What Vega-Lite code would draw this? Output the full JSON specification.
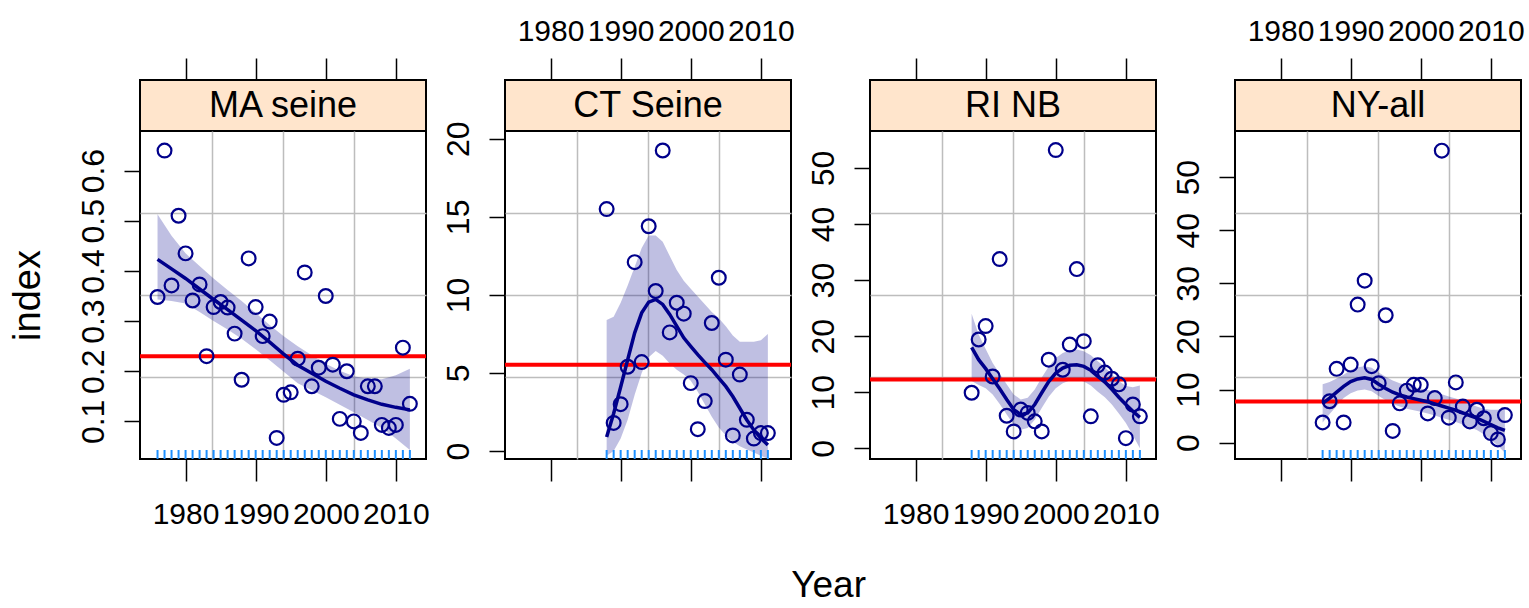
{
"$schema": "https://vega.github.io/schema/vega-lite/v6.json",
"padding": {"left": 7, "top": 15, "right": 2, "bottom": 2},
"datasets": {
"pts": [
{"panel":"MA seine","Year":1976,"index":0.348},{"panel":"MA seine","Year":1977,"index":0.64},{"panel":"MA seine","Year":1978,"index":0.371},{"panel":"MA seine","Year":1979,"index":0.51},{"panel":"MA seine","Year":1980,"index":0.435},{"panel":"MA seine","Year":1981,"index":0.341},{"panel":"MA seine","Year":1982,"index":0.373},{"panel":"MA seine","Year":1983,"index":0.23},{"panel":"MA seine","Year":1984,"index":0.328},{"panel":"MA seine","Year":1985,"index":0.338},{"panel":"MA seine","Year":1986,"index":0.327},{"panel":"MA seine","Year":1987,"index":0.275},{"panel":"MA seine","Year":1988,"index":0.183},{"panel":"MA seine","Year":1989,"index":0.425},{"panel":"MA seine","Year":1990,"index":0.328},{"panel":"MA seine","Year":1991,"index":0.27},{"panel":"MA seine","Year":1992,"index":0.299},{"panel":"MA seine","Year":1993,"index":0.067},{"panel":"MA seine","Year":1994,"index":0.153},{"panel":"MA seine","Year":1995,"index":0.158},{"panel":"MA seine","Year":1996,"index":0.225},{"panel":"MA seine","Year":1997,"index":0.397},{"panel":"MA seine","Year":1998,"index":0.17},{"panel":"MA seine","Year":1999,"index":0.207},{"panel":"MA seine","Year":2000,"index":0.35},{"panel":"MA seine","Year":2001,"index":0.213},{"panel":"MA seine","Year":2002,"index":0.105},{"panel":"MA seine","Year":2003,"index":0.2},{"panel":"MA seine","Year":2004,"index":0.1},{"panel":"MA seine","Year":2005,"index":0.077},{"panel":"MA seine","Year":2006,"index":0.17},{"panel":"MA seine","Year":2007,"index":0.17},{"panel":"MA seine","Year":2008,"index":0.093},{"panel":"MA seine","Year":2009,"index":0.087},{"panel":"MA seine","Year":2010,"index":0.093},{"panel":"MA seine","Year":2011,"index":0.247},{"panel":"MA seine","Year":2012,"index":0.135},
{"panel":"CT Seine","Year":1988,"index":15.5},{"panel":"CT Seine","Year":1989,"index":1.8},{"panel":"CT Seine","Year":1990,"index":3.0},{"panel":"CT Seine","Year":1991,"index":5.4},{"panel":"CT Seine","Year":1992,"index":12.1},{"panel":"CT Seine","Year":1993,"index":5.7},{"panel":"CT Seine","Year":1994,"index":14.4},{"panel":"CT Seine","Year":1995,"index":10.25},{"panel":"CT Seine","Year":1996,"index":19.25},{"panel":"CT Seine","Year":1997,"index":7.6},{"panel":"CT Seine","Year":1998,"index":9.5},{"panel":"CT Seine","Year":1999,"index":8.8},{"panel":"CT Seine","Year":2000,"index":4.35},{"panel":"CT Seine","Year":2001,"index":1.4},{"panel":"CT Seine","Year":2002,"index":3.2},{"panel":"CT Seine","Year":2003,"index":8.2},{"panel":"CT Seine","Year":2004,"index":11.1},{"panel":"CT Seine","Year":2005,"index":5.85},{"panel":"CT Seine","Year":2006,"index":1.0},{"panel":"CT Seine","Year":2007,"index":4.9},{"panel":"CT Seine","Year":2008,"index":2.0},{"panel":"CT Seine","Year":2009,"index":0.8},{"panel":"CT Seine","Year":2010,"index":1.15},{"panel":"CT Seine","Year":2011,"index":1.15},
{"panel":"RI NB","Year":1988,"index":9.9},{"panel":"RI NB","Year":1989,"index":19.4},{"panel":"RI NB","Year":1990,"index":21.8},{"panel":"RI NB","Year":1991,"index":12.8},{"panel":"RI NB","Year":1992,"index":33.75},{"panel":"RI NB","Year":1993,"index":5.8},{"panel":"RI NB","Year":1994,"index":3.0},{"panel":"RI NB","Year":1995,"index":6.9},{"panel":"RI NB","Year":1996,"index":6.3},{"panel":"RI NB","Year":1997,"index":4.8},{"panel":"RI NB","Year":1998,"index":3.0},{"panel":"RI NB","Year":1999,"index":15.8},{"panel":"RI NB","Year":2000,"index":53.2},{"panel":"RI NB","Year":2001,"index":14.0},{"panel":"RI NB","Year":2002,"index":18.5},{"panel":"RI NB","Year":2003,"index":31.96},{"panel":"RI NB","Year":2004,"index":19.1},{"panel":"RI NB","Year":2005,"index":5.7},{"panel":"RI NB","Year":2006,"index":14.8},{"panel":"RI NB","Year":2007,"index":13.5},{"panel":"RI NB","Year":2008,"index":12.4},{"panel":"RI NB","Year":2009,"index":11.4},{"panel":"RI NB","Year":2010,"index":1.8},{"panel":"RI NB","Year":2011,"index":7.8},{"panel":"RI NB","Year":2012,"index":5.7},
{"panel":"NY-all","Year":1986,"index":3.8},{"panel":"NY-all","Year":1987,"index":7.8},{"panel":"NY-all","Year":1988,"index":13.9},{"panel":"NY-all","Year":1989,"index":3.8},{"panel":"NY-all","Year":1990,"index":14.7},{"panel":"NY-all","Year":1991,"index":26.0},{"panel":"NY-all","Year":1992,"index":30.5},{"panel":"NY-all","Year":1993,"index":14.4},{"panel":"NY-all","Year":1994,"index":11.2},{"panel":"NY-all","Year":1995,"index":24.0},{"panel":"NY-all","Year":1996,"index":2.2},{"panel":"NY-all","Year":1997,"index":7.4},{"panel":"NY-all","Year":1998,"index":9.8},{"panel":"NY-all","Year":1999,"index":10.9},{"panel":"NY-all","Year":2000,"index":10.9},{"panel":"NY-all","Year":2001,"index":5.5},{"panel":"NY-all","Year":2002,"index":8.4},{"panel":"NY-all","Year":2003,"index":55.0},{"panel":"NY-all","Year":2004,"index":4.7},{"panel":"NY-all","Year":2005,"index":11.35},{"panel":"NY-all","Year":2006,"index":6.8},{"panel":"NY-all","Year":2007,"index":4.0},{"panel":"NY-all","Year":2008,"index":6.2},{"panel":"NY-all","Year":2009,"index":4.6},{"panel":"NY-all","Year":2010,"index":1.8},{"panel":"NY-all","Year":2011,"index":0.6},{"panel":"NY-all","Year":2012,"index":5.2}
],
"fit": [
{"panel":"MA seine","Year":1976,"fit":0.423,"lo":0.343,"hi":0.513},{"panel":"MA seine","Year":1978,"fit":0.404,"lo":0.340,"hi":0.470},{"panel":"MA seine","Year":1980,"fit":0.385,"lo":0.335,"hi":0.435},{"panel":"MA seine","Year":1982,"fit":0.364,"lo":0.318,"hi":0.410},{"panel":"MA seine","Year":1984,"fit":0.343,"lo":0.300,"hi":0.385},{"panel":"MA seine","Year":1986,"fit":0.323,"lo":0.283,"hi":0.362},{"panel":"MA seine","Year":1988,"fit":0.302,"lo":0.265,"hi":0.340},{"panel":"MA seine","Year":1990,"fit":0.281,"lo":0.244,"hi":0.316},{"panel":"MA seine","Year":1992,"fit":0.258,"lo":0.222,"hi":0.292},{"panel":"MA seine","Year":1994,"fit":0.234,"lo":0.199,"hi":0.270},{"panel":"MA seine","Year":1996,"fit":0.212,"lo":0.176,"hi":0.250},{"panel":"MA seine","Year":1998,"fit":0.196,"lo":0.162,"hi":0.232},{"panel":"MA seine","Year":2000,"fit":0.180,"lo":0.148,"hi":0.215},{"panel":"MA seine","Year":2002,"fit":0.166,"lo":0.133,"hi":0.201},{"panel":"MA seine","Year":2004,"fit":0.153,"lo":0.118,"hi":0.190},{"panel":"MA seine","Year":2006,"fit":0.143,"lo":0.103,"hi":0.185},{"panel":"MA seine","Year":2008,"fit":0.134,"lo":0.087,"hi":0.184},{"panel":"MA seine","Year":2010,"fit":0.128,"lo":0.066,"hi":0.192},{"panel":"MA seine","Year":2012,"fit":0.123,"lo":0.043,"hi":0.205},
{"panel":"CT Seine","Year":1988,"fit":0.9,"lo":-0.3,"hi":8.4},{"panel":"CT Seine","Year":1989,"fit":2.4,"lo":0.0,"hi":8.6},{"panel":"CT Seine","Year":1990,"fit":4.1,"lo":0.8,"hi":9.5},{"panel":"CT Seine","Year":1991,"fit":5.85,"lo":2.0,"hi":10.6},{"panel":"CT Seine","Year":1992,"fit":7.57,"lo":3.6,"hi":11.8},{"panel":"CT Seine","Year":1993,"fit":8.85,"lo":5.0,"hi":13.0},{"panel":"CT Seine","Year":1994,"fit":9.54,"lo":6.0,"hi":13.8},{"panel":"CT Seine","Year":1995,"fit":9.71,"lo":6.4,"hi":13.8},{"panel":"CT Seine","Year":1996,"fit":9.39,"lo":6.1,"hi":13.4},{"panel":"CT Seine","Year":1997,"fit":8.75,"lo":5.6,"hi":12.5},{"panel":"CT Seine","Year":1998,"fit":8.0,"lo":5.2,"hi":11.6},{"panel":"CT Seine","Year":1999,"fit":7.25,"lo":4.9,"hi":10.9},{"panel":"CT Seine","Year":2000,"fit":6.71,"lo":4.5,"hi":10.4},{"panel":"CT Seine","Year":2001,"fit":6.17,"lo":3.8,"hi":9.9},{"panel":"CT Seine","Year":2002,"fit":5.68,"lo":3.0,"hi":9.4},{"panel":"CT Seine","Year":2003,"fit":5.21,"lo":2.2,"hi":8.9},{"panel":"CT Seine","Year":2004,"fit":4.67,"lo":1.5,"hi":8.5},{"panel":"CT Seine","Year":2005,"fit":4.14,"lo":1.0,"hi":8.0},{"panel":"CT Seine","Year":2006,"fit":3.49,"lo":0.6,"hi":7.4},{"panel":"CT Seine","Year":2007,"fit":2.74,"lo":0.3,"hi":7.0},{"panel":"CT Seine","Year":2008,"fit":1.99,"lo":0.1,"hi":7.0},{"panel":"CT Seine","Year":2009,"fit":1.35,"lo":-0.1,"hi":7.0},{"panel":"CT Seine","Year":2010,"fit":0.81,"lo":-0.3,"hi":7.1},{"panel":"CT Seine","Year":2011,"fit":0.39,"lo":-0.5,"hi":7.5},
{"panel":"RI NB","Year":1988,"fit":18.0,"lo":12.0,"hi":24.0},{"panel":"RI NB","Year":1989,"fit":15.8,"lo":11.3,"hi":20.3},{"panel":"RI NB","Year":1990,"fit":14.2,"lo":10.7,"hi":17.7},{"panel":"RI NB","Year":1991,"fit":12.4,"lo":9.6,"hi":15.2},{"panel":"RI NB","Year":1992,"fit":10.6,"lo":7.9,"hi":13.3},{"panel":"RI NB","Year":1993,"fit":8.7,"lo":6.0,"hi":11.4},{"panel":"RI NB","Year":1994,"fit":6.9,"lo":4.2,"hi":9.6},{"panel":"RI NB","Year":1995,"fit":6.0,"lo":3.3,"hi":8.7},{"panel":"RI NB","Year":1996,"fit":6.3,"lo":3.6,"hi":9.0},{"panel":"RI NB","Year":1997,"fit":7.8,"lo":5.1,"hi":10.5},{"panel":"RI NB","Year":1998,"fit":9.9,"lo":7.2,"hi":12.6},{"panel":"RI NB","Year":1999,"fit":11.9,"lo":9.2,"hi":14.6},{"panel":"RI NB","Year":2000,"fit":13.4,"lo":10.7,"hi":16.1},{"panel":"RI NB","Year":2001,"fit":14.3,"lo":11.6,"hi":17.0},{"panel":"RI NB","Year":2002,"fit":14.8,"lo":12.1,"hi":17.5},{"panel":"RI NB","Year":2003,"fit":14.9,"lo":12.2,"hi":17.6},{"panel":"RI NB","Year":2004,"fit":14.6,"lo":11.9,"hi":17.3},{"panel":"RI NB","Year":2005,"fit":13.9,"lo":11.2,"hi":16.6},{"panel":"RI NB","Year":2006,"fit":12.8,"lo":10.1,"hi":15.5},{"panel":"RI NB","Year":2007,"fit":11.8,"lo":9.1,"hi":14.5},{"panel":"RI NB","Year":2008,"fit":10.5,"lo":7.8,"hi":13.2},{"panel":"RI NB","Year":2009,"fit":9.1,"lo":6.2,"hi":12.0},{"panel":"RI NB","Year":2010,"fit":7.8,"lo":4.5,"hi":11.1},{"panel":"RI NB","Year":2011,"fit":6.6,"lo":2.3,"hi":10.9},{"panel":"RI NB","Year":2012,"fit":5.5,"lo":0.0,"hi":11.2},
{"panel":"NY-all","Year":1986,"fit":7.4,"lo":3.8,"hi":11.0},{"panel":"NY-all","Year":1987,"fit":8.4,"lo":5.4,"hi":11.4},{"panel":"NY-all","Year":1988,"fit":9.5,"lo":6.9,"hi":12.1},{"panel":"NY-all","Year":1989,"fit":10.6,"lo":8.4,"hi":12.8},{"panel":"NY-all","Year":1990,"fit":11.5,"lo":9.3,"hi":13.7},{"panel":"NY-all","Year":1991,"fit":12.0,"lo":9.8,"hi":14.2},{"panel":"NY-all","Year":1992,"fit":12.2,"lo":10.0,"hi":14.4},{"panel":"NY-all","Year":1993,"fit":11.9,"lo":9.7,"hi":14.1},{"panel":"NY-all","Year":1994,"fit":11.0,"lo":8.8,"hi":13.2},{"panel":"NY-all","Year":1995,"fit":10.2,"lo":8.0,"hi":12.4},{"panel":"NY-all","Year":1996,"fit":9.5,"lo":7.3,"hi":11.7},{"panel":"NY-all","Year":1997,"fit":9.0,"lo":6.8,"hi":11.2},{"panel":"NY-all","Year":1998,"fit":8.6,"lo":6.4,"hi":10.8},{"panel":"NY-all","Year":1999,"fit":8.3,"lo":6.1,"hi":10.5},{"panel":"NY-all","Year":2000,"fit":8.0,"lo":5.8,"hi":10.2},{"panel":"NY-all","Year":2001,"fit":7.7,"lo":5.5,"hi":9.9},{"panel":"NY-all","Year":2002,"fit":7.3,"lo":5.1,"hi":9.5},{"panel":"NY-all","Year":2003,"fit":6.9,"lo":4.7,"hi":9.1},{"panel":"NY-all","Year":2004,"fit":6.5,"lo":4.3,"hi":8.7},{"panel":"NY-all","Year":2005,"fit":6.1,"lo":3.9,"hi":8.3},{"panel":"NY-all","Year":2006,"fit":5.6,"lo":3.4,"hi":7.8},{"panel":"NY-all","Year":2007,"fit":5.1,"lo":2.9,"hi":7.3},{"panel":"NY-all","Year":2008,"fit":4.6,"lo":2.4,"hi":6.8},{"panel":"NY-all","Year":2009,"fit":4.0,"lo":1.6,"hi":6.4},{"panel":"NY-all","Year":2010,"fit":3.4,"lo":0.6,"hi":6.2},{"panel":"NY-all","Year":2011,"fit":2.8,"lo":-0.6,"hi":6.2},{"panel":"NY-all","Year":2012,"fit":2.3,"lo":-1.9,"hi":6.5}
],
"ref": [
{"panel":"MA seine","index":0.23},{"panel":"CT Seine","index":5.53},{"panel":"RI NB","index":12.25},{"panel":"NY-all","index":7.76}
]
},
"title": {"text": "Year", "orient": "bottom", "anchor": "middle", "fontSize": 37, "fontWeight": "normal", "font": "Liberation Sans", "color": "black", "offset": 38, "dx": 62},
"spacing": 9,
"resolve": {"scale": {"x": "independent", "y": "independent"}},
"hconcat": [
{"vconcat": [
 {"width": 286, "height": 51, "view": {"fill": "#FFE5CC", "stroke": "black", "strokeWidth": 2},
  "layer": [
   {"data": {"name": "pts"}, "transform": [{"filter": "datum.panel === 'MA seine'"}], "mark": {"type": "point", "opacity": 0},
    "encoding": {"x": {"field": "Year", "type": "quantitative", "scale": {"domain": [1973.5, 2014.3], "nice": false, "zero": false}, "axis": {"orient": "top", "values": [1980, 1990, 2000, 2010], "format": "d", "labels": false, "tickSize": 22, "labelPadding": 12, "title": null}}}},
   {"data": {"name": "ref"}, "transform": [{"filter": "datum.panel === 'MA seine'"}], "mark": {"type": "text", "fontSize": 36, "font": "Liberation Sans", "color": "black", "baseline": "middle"}, "encoding": {"text": {"field": "panel"}}}
  ]},
 {"width": 286, "height": 328,
  "resolve": {"axis": {"x": "independent", "y": "independent"}},
  "layer": [
   {"data": {"name": "fit"}, "transform": [{"filter": "datum.panel === 'MA seine'"}], "mark": {"type": "area", "color": "#00008B", "opacity": 0.25},
    "encoding": {"x": {"field": "Year", "type": "quantitative", "scale": {"domain": [1973.5, 2014.3], "nice": false, "zero": false}, "axis": {"orient": "bottom", "values": [1983.7, 1993.9, 2004.1], "grid": true, "ticks": false, "labels": false, "gridColor": "#bdbdbd", "gridWidth": 1.5, "title": null}},
     "y": {"field": "lo", "type": "quantitative", "scale": {"domain": [0.025, 0.679], "nice": false, "zero": false}, "axis": {"orient": "left", "values": [0.1885, 0.352, 0.5155], "grid": true, "ticks": false, "labels": false, "gridColor": "#bdbdbd", "gridWidth": 1.5, "title": null}},
     "y2": {"field": "hi"}}},
   {"data": {"name": "ref"}, "transform": [{"filter": "datum.panel === 'MA seine'"}], "mark": {"type": "rule", "color": "#FF0000", "strokeWidth": 4},
    "encoding": {"y": {"field": "index", "type": "quantitative", "scale": {"domain": [0.025, 0.679], "nice": false, "zero": false}, "axis": null}}},
   {"data": {"name": "pts"}, "transform": [{"filter": "datum.panel === 'MA seine'"}], "mark": {"type": "point", "shape": "circle", "filled": false, "color": "#00008B", "opacity": 1, "size": 190, "strokeWidth": 2.2},
    "encoding": {"x": {"field": "Year", "type": "quantitative", "scale": {"domain": [1973.5, 2014.3], "nice": false, "zero": false}, "axis": {"orient": "bottom", "values": [1980, 1990, 2000, 2010], "format": "d", "labels": true, "tickSize": 22, "labelPadding": 18, "title": null}},
     "y": {"field": "index", "type": "quantitative", "scale": {"domain": [0.025, 0.679], "nice": false, "zero": false}, "axis": {"orient": "left", "values": [0.1, 0.2, 0.3, 0.4, 0.5, 0.6], "format": ".1f", "labelAngle": 270, "labelAlign": "center", "labelBaseline": "bottom", "tickSize": 16, "labelPadding": 14, "title": "index", "titleFontSize": 38, "titlePadding": 30}}}},
   {"data": {"name": "fit"}, "transform": [{"filter": "datum.panel === 'MA seine'"}], "mark": {"type": "line", "color": "#00008B", "strokeWidth": 3.5},
    "encoding": {"x": {"field": "Year", "type": "quantitative", "scale": {"domain": [1973.5, 2014.3], "nice": false, "zero": false}, "axis": null},
     "y": {"field": "fit", "type": "quantitative", "scale": {"domain": [0.025, 0.679], "nice": false, "zero": false}, "axis": null}}},
   {"data": {"name": "pts"}, "transform": [{"filter": "datum.panel === 'MA seine'"}], "mark": {"type": "tick", "orient": "vertical", "color": "#1E90FF", "opacity": 1, "size": 9, "thickness": 2, "yOffset": -4.5},
    "encoding": {"x": {"field": "Year", "type": "quantitative", "scale": {"domain": [1973.5, 2014.3], "nice": false, "zero": false}, "axis": null}, "y": {"value": "height"}}}
  ]}
 ], "spacing": 0, "bounds": "flush", "resolve": {"scale": {"x": "independent", "y": "independent"}}},
{"vconcat": [
 {"width": 286, "height": 51, "view": {"fill": "#FFE5CC", "stroke": "black", "strokeWidth": 2},
  "layer": [
   {"data": {"name": "pts"}, "transform": [{"filter": "datum.panel === 'CT Seine'"}], "mark": {"type": "point", "opacity": 0},
    "encoding": {"x": {"field": "Year", "type": "quantitative", "scale": {"domain": [1973.5, 2014.3], "nice": false, "zero": false}, "axis": {"orient": "top", "values": [1980, 1990, 2000, 2010], "format": "d", "labels": true, "tickSize": 22, "labelPadding": 12, "title": null}}}},
   {"data": {"name": "ref"}, "transform": [{"filter": "datum.panel === 'CT Seine'"}], "mark": {"type": "text", "fontSize": 36, "font": "Liberation Sans", "color": "black", "baseline": "middle"}, "encoding": {"text": {"field": "panel"}}}
  ]},
 {"width": 286, "height": 328,
  "resolve": {"axis": {"x": "independent", "y": "independent"}},
  "layer": [
   {"data": {"name": "fit"}, "transform": [{"filter": "datum.panel === 'CT Seine'"}], "mark": {"type": "area", "color": "#00008B", "opacity": 0.25},
    "encoding": {"x": {"field": "Year", "type": "quantitative", "scale": {"domain": [1973.5, 2014.3], "nice": false, "zero": false}, "axis": {"orient": "bottom", "values": [1983.7, 1993.9, 2004.1], "grid": true, "ticks": false, "labels": false, "gridColor": "#bdbdbd", "gridWidth": 1.5, "title": null}},
     "y": {"field": "lo", "type": "quantitative", "scale": {"domain": [-0.51, 20.5], "nice": false, "zero": false}, "axis": {"orient": "left", "values": [4.7425, 9.995, 15.2475], "grid": true, "ticks": false, "labels": false, "gridColor": "#bdbdbd", "gridWidth": 1.5, "title": null}},
     "y2": {"field": "hi"}}},
   {"data": {"name": "ref"}, "transform": [{"filter": "datum.panel === 'CT Seine'"}], "mark": {"type": "rule", "color": "#FF0000", "strokeWidth": 4},
    "encoding": {"y": {"field": "index", "type": "quantitative", "scale": {"domain": [-0.51, 20.5], "nice": false, "zero": false}, "axis": null}}},
   {"data": {"name": "pts"}, "transform": [{"filter": "datum.panel === 'CT Seine'"}], "mark": {"type": "point", "shape": "circle", "filled": false, "color": "#00008B", "opacity": 1, "size": 190, "strokeWidth": 2.2},
    "encoding": {"x": {"field": "Year", "type": "quantitative", "scale": {"domain": [1973.5, 2014.3], "nice": false, "zero": false}, "axis": {"orient": "bottom", "values": [1980, 1990, 2000, 2010], "format": "d", "labels": false, "tickSize": 22, "labelPadding": 18, "title": null}},
     "y": {"field": "index", "type": "quantitative", "scale": {"domain": [-0.51, 20.5], "nice": false, "zero": false}, "axis": {"orient": "left", "values": [0, 5, 10, 15, 20], "format": "d", "labelAngle": 270, "labelAlign": "center", "labelBaseline": "bottom", "tickSize": 16, "labelPadding": 14, "title": null}}}},
   {"data": {"name": "fit"}, "transform": [{"filter": "datum.panel === 'CT Seine'"}], "mark": {"type": "line", "color": "#00008B", "strokeWidth": 3.5},
    "encoding": {"x": {"field": "Year", "type": "quantitative", "scale": {"domain": [1973.5, 2014.3], "nice": false, "zero": false}, "axis": null},
     "y": {"field": "fit", "type": "quantitative", "scale": {"domain": [-0.51, 20.5], "nice": false, "zero": false}, "axis": null}}},
   {"data": {"name": "pts"}, "transform": [{"filter": "datum.panel === 'CT Seine'"}], "mark": {"type": "tick", "orient": "vertical", "color": "#1E90FF", "opacity": 1, "size": 9, "thickness": 2, "yOffset": -4.5},
    "encoding": {"x": {"field": "Year", "type": "quantitative", "scale": {"domain": [1973.5, 2014.3], "nice": false, "zero": false}, "axis": null}, "y": {"value": "height"}}}
  ]}
 ], "spacing": 0, "bounds": "flush", "resolve": {"scale": {"x": "independent", "y": "independent"}}},
{"vconcat": [
 {"width": 286, "height": 51, "view": {"fill": "#FFE5CC", "stroke": "black", "strokeWidth": 2},
  "layer": [
   {"data": {"name": "pts"}, "transform": [{"filter": "datum.panel === 'RI NB'"}], "mark": {"type": "point", "opacity": 0},
    "encoding": {"x": {"field": "Year", "type": "quantitative", "scale": {"domain": [1973.5, 2014.3], "nice": false, "zero": false}, "axis": {"orient": "top", "values": [1980, 1990, 2000, 2010], "format": "d", "labels": false, "tickSize": 22, "labelPadding": 12, "title": null}}}},
   {"data": {"name": "ref"}, "transform": [{"filter": "datum.panel === 'RI NB'"}], "mark": {"type": "text", "fontSize": 36, "font": "Liberation Sans", "color": "black", "baseline": "middle"}, "encoding": {"text": {"field": "panel"}}}
  ]},
 {"width": 286, "height": 328,
  "resolve": {"axis": {"x": "independent", "y": "independent"}},
  "layer": [
   {"data": {"name": "fit"}, "transform": [{"filter": "datum.panel === 'RI NB'"}], "mark": {"type": "area", "color": "#00008B", "opacity": 0.25},
    "encoding": {"x": {"field": "Year", "type": "quantitative", "scale": {"domain": [1973.5, 2014.3], "nice": false, "zero": false}, "axis": {"orient": "bottom", "values": [1983.7, 1993.9, 2004.1], "grid": true, "ticks": false, "labels": false, "gridColor": "#bdbdbd", "gridWidth": 1.5, "title": null}},
     "y": {"field": "lo", "type": "quantitative", "scale": {"domain": [-1.92, 56.6], "nice": false, "zero": false}, "axis": {"orient": "left", "values": [12.71, 27.34, 41.97], "grid": true, "ticks": false, "labels": false, "gridColor": "#bdbdbd", "gridWidth": 1.5, "title": null}},
     "y2": {"field": "hi"}}},
   {"data": {"name": "ref"}, "transform": [{"filter": "datum.panel === 'RI NB'"}], "mark": {"type": "rule", "color": "#FF0000", "strokeWidth": 4},
    "encoding": {"y": {"field": "index", "type": "quantitative", "scale": {"domain": [-1.92, 56.6], "nice": false, "zero": false}, "axis": null}}},
   {"data": {"name": "pts"}, "transform": [{"filter": "datum.panel === 'RI NB'"}], "mark": {"type": "point", "shape": "circle", "filled": false, "color": "#00008B", "opacity": 1, "size": 190, "strokeWidth": 2.2},
    "encoding": {"x": {"field": "Year", "type": "quantitative", "scale": {"domain": [1973.5, 2014.3], "nice": false, "zero": false}, "axis": {"orient": "bottom", "values": [1980, 1990, 2000, 2010], "format": "d", "labels": true, "tickSize": 22, "labelPadding": 18, "title": null}},
     "y": {"field": "index", "type": "quantitative", "scale": {"domain": [-1.92, 56.6], "nice": false, "zero": false}, "axis": {"orient": "left", "values": [0, 10, 20, 30, 40, 50], "format": "d", "labelAngle": 270, "labelAlign": "center", "labelBaseline": "bottom", "tickSize": 16, "labelPadding": 14, "title": null}}}},
   {"data": {"name": "fit"}, "transform": [{"filter": "datum.panel === 'RI NB'"}], "mark": {"type": "line", "color": "#00008B", "strokeWidth": 3.5},
    "encoding": {"x": {"field": "Year", "type": "quantitative", "scale": {"domain": [1973.5, 2014.3], "nice": false, "zero": false}, "axis": null},
     "y": {"field": "fit", "type": "quantitative", "scale": {"domain": [-1.92, 56.6], "nice": false, "zero": false}, "axis": null}}},
   {"data": {"name": "pts"}, "transform": [{"filter": "datum.panel === 'RI NB'"}], "mark": {"type": "tick", "orient": "vertical", "color": "#1E90FF", "opacity": 1, "size": 9, "thickness": 2, "yOffset": -4.5},
    "encoding": {"x": {"field": "Year", "type": "quantitative", "scale": {"domain": [1973.5, 2014.3], "nice": false, "zero": false}, "axis": null}, "y": {"value": "height"}}}
  ]}
 ], "spacing": 0, "bounds": "flush", "resolve": {"scale": {"x": "independent", "y": "independent"}}},
{"vconcat": [
 {"width": 286, "height": 51, "view": {"fill": "#FFE5CC", "stroke": "black", "strokeWidth": 2},
  "layer": [
   {"data": {"name": "pts"}, "transform": [{"filter": "datum.panel === 'NY-all'"}], "mark": {"type": "point", "opacity": 0},
    "encoding": {"x": {"field": "Year", "type": "quantitative", "scale": {"domain": [1973.5, 2014.3], "nice": false, "zero": false}, "axis": {"orient": "top", "values": [1980, 1990, 2000, 2010], "format": "d", "labels": true, "tickSize": 22, "labelPadding": 12, "title": null}}}},
   {"data": {"name": "ref"}, "transform": [{"filter": "datum.panel === 'NY-all'"}], "mark": {"type": "text", "fontSize": 36, "font": "Liberation Sans", "color": "black", "baseline": "middle"}, "encoding": {"text": {"field": "panel"}}}
  ]},
 {"width": 286, "height": 328,
  "resolve": {"axis": {"x": "independent", "y": "independent"}},
  "layer": [
   {"data": {"name": "fit"}, "transform": [{"filter": "datum.panel === 'NY-all'"}], "mark": {"type": "area", "color": "#00008B", "opacity": 0.25},
    "encoding": {"x": {"field": "Year", "type": "quantitative", "scale": {"domain": [1973.5, 2014.3], "nice": false, "zero": false}, "axis": {"orient": "bottom", "values": [1983.7, 1993.9, 2004.1], "grid": true, "ticks": false, "labels": false, "gridColor": "#bdbdbd", "gridWidth": 1.5, "title": null}},
     "y": {"field": "lo", "type": "quantitative", "scale": {"domain": [-3.08, 58.7], "nice": false, "zero": false}, "axis": {"orient": "left", "values": [12.365, 27.81, 43.255], "grid": true, "ticks": false, "labels": false, "gridColor": "#bdbdbd", "gridWidth": 1.5, "title": null}},
     "y2": {"field": "hi"}}},
   {"data": {"name": "ref"}, "transform": [{"filter": "datum.panel === 'NY-all'"}], "mark": {"type": "rule", "color": "#FF0000", "strokeWidth": 4},
    "encoding": {"y": {"field": "index", "type": "quantitative", "scale": {"domain": [-3.08, 58.7], "nice": false, "zero": false}, "axis": null}}},
   {"data": {"name": "pts"}, "transform": [{"filter": "datum.panel === 'NY-all'"}], "mark": {"type": "point", "shape": "circle", "filled": false, "color": "#00008B", "opacity": 1, "size": 190, "strokeWidth": 2.2},
    "encoding": {"x": {"field": "Year", "type": "quantitative", "scale": {"domain": [1973.5, 2014.3], "nice": false, "zero": false}, "axis": {"orient": "bottom", "values": [1980, 1990, 2000, 2010], "format": "d", "labels": false, "tickSize": 22, "labelPadding": 18, "title": null}},
     "y": {"field": "index", "type": "quantitative", "scale": {"domain": [-3.08, 58.7], "nice": false, "zero": false}, "axis": {"orient": "left", "values": [0, 10, 20, 30, 40, 50], "format": "d", "labelAngle": 270, "labelAlign": "center", "labelBaseline": "bottom", "tickSize": 16, "labelPadding": 14, "title": null}}}},
   {"data": {"name": "fit"}, "transform": [{"filter": "datum.panel === 'NY-all'"}], "mark": {"type": "line", "color": "#00008B", "strokeWidth": 3.5},
    "encoding": {"x": {"field": "Year", "type": "quantitative", "scale": {"domain": [1973.5, 2014.3], "nice": false, "zero": false}, "axis": null},
     "y": {"field": "fit", "type": "quantitative", "scale": {"domain": [-3.08, 58.7], "nice": false, "zero": false}, "axis": null}}},
   {"data": {"name": "pts"}, "transform": [{"filter": "datum.panel === 'NY-all'"}], "mark": {"type": "tick", "orient": "vertical", "color": "#1E90FF", "opacity": 1, "size": 9, "thickness": 2, "yOffset": -4.5},
    "encoding": {"x": {"field": "Year", "type": "quantitative", "scale": {"domain": [1973.5, 2014.3], "nice": false, "zero": false}, "axis": null}, "y": {"value": "height"}}}
  ]}
 ], "spacing": 0, "bounds": "flush", "resolve": {"scale": {"x": "independent", "y": "independent"}}}
],
"config": {
 "font": "Liberation Sans",
 "view": {"stroke": "black", "strokeWidth": 2},
 "axis": {"labelFont": "Liberation Sans", "labelFontSize": 32, "labelColor": "black", "tickColor": "black", "tickWidth": 1.5, "domain": false, "grid": false, "labelOverlap": false, "labelFlush": false, "titleFont": "Liberation Sans", "titleFontWeight": "normal", "titleColor": "black"},
 "axisX": {"labelFontSize": 30}
}
}
